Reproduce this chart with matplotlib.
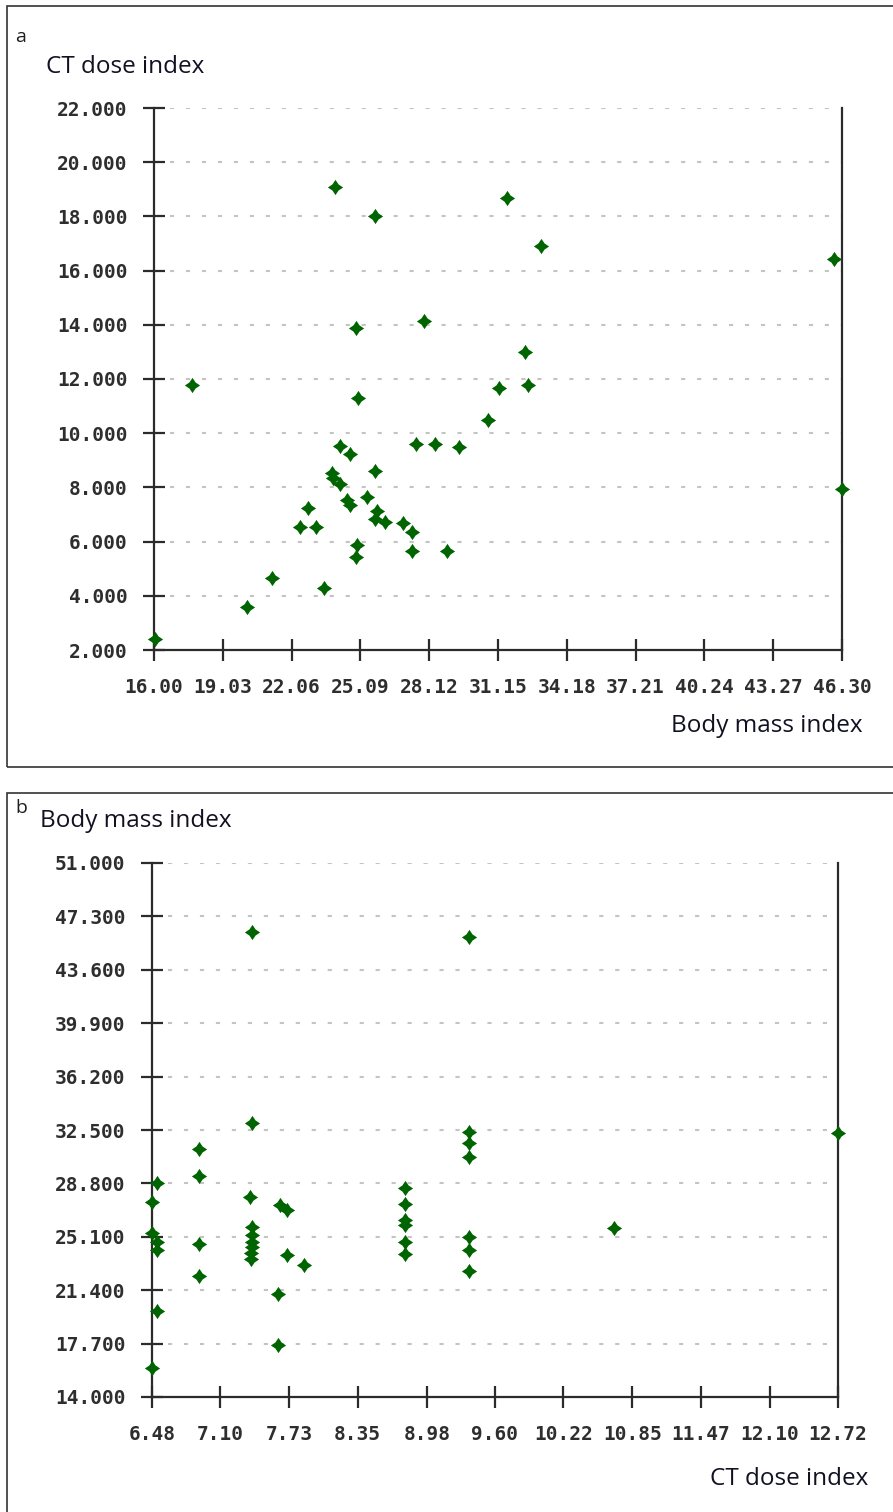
import matplotlib
matplotlib.use("Agg")
import matplotlib.pyplot as plt
from matplotlib.path import Path
from matplotlib.patches import Rectangle

plt.rcParams['lines.scale_dashes'] = False

# ---------------- data ----------------
# Panel a: x = Body mass index, y = CT dose index
a_bmi = [23.97, 25.74, 24.9, 27.9, 31.53, 33.05, 45.96, 32.36, 17.67, 25.0,
         24.19, 24.63, 27.54, 28.36, 23.83, 23.9, 24.19, 25.72, 24.51, 24.63,
         25.37, 22.8, 22.43, 23.14, 25.8, 25.74, 26.18, 26.98, 27.38, 27.35,
         28.92, 24.93, 24.9, 23.5, 21.18, 20.1, 16.04, 31.2, 32.45, 30.73,
         29.45, 46.3]
a_ctdi = [19.08, 18.0, 13.9, 14.15, 18.69, 16.91, 16.43, 13.0, 11.78, 11.29,
          9.53, 9.22, 9.6, 9.6, 8.54, 8.33, 8.13, 8.62, 7.54, 7.35,
          7.66, 7.25, 6.55, 6.55, 7.14, 6.83, 6.74, 6.68, 6.37, 5.65,
          5.65, 5.87, 5.44, 4.28, 4.67, 3.58, 2.4, 11.68, 11.78, 10.49,
          9.5, 7.93]
a_xticklabels = ["16.00", "19.03", "22.06", "25.09", "28.12", "31.15",
                 "34.18", "37.21", "40.24", "43.27", "46.30"]
a_yticklabels = ["2.000", "4.000", "6.000", "8.000", "10.000", "12.000",
                 "14.000", "16.000", "18.000", "20.000", "22.000"]

# Panel b: x = CT dose index, y = Body mass index
b_ctdi = [7.39, 9.36, 7.39, 6.91, 6.91, 6.53, 6.48, 7.37, 7.64, 7.71,
          8.78, 8.78, 8.78, 8.78, 8.78, 8.78, 6.48, 6.53, 6.53, 6.91,
          6.91, 7.39, 7.39, 7.39, 7.39, 7.38, 7.38, 7.71, 7.86, 7.63,
          6.53, 7.63, 6.48, 9.36, 9.36, 9.36, 12.72, 10.68, 9.36, 9.36,
          9.36]
b_bmi = [46.19, 45.84, 33.01, 31.17, 29.31, 28.81, 27.49, 27.88, 27.3, 26.96,
         28.46, 27.35, 26.26, 25.9, 24.76, 23.88, 25.34, 24.76, 24.18, 24.6,
         22.38, 25.8, 25.22, 24.76, 24.41, 23.95, 23.54, 23.84, 23.14, 21.11,
         19.97, 17.6, 15.98, 32.39, 31.58, 30.61, 32.28, 25.69, 25.06, 24.18,
         22.75]
b_xticklabels = ["6.48", "7.10", "7.73", "8.35", "8.98", "9.60",
                 "10.22", "10.85", "11.47", "12.10", "12.72"]
b_yticklabels = ["14.000", "17.700", "21.400", "25.100", "28.800", "32.500",
                 "36.200", "39.900", "43.600", "47.300", "51.000"]

# ---------------- style ----------------
W, H = 893, 1512
fig = plt.figure(figsize=(W / 100, H / 100), dpi=100)

GREEN = "#006400"
AXC = "#2b2b2b"
TICKC = "#2e2e2e"
GRIDC = "#c4c4c4"
LABEL_FONT = ["Open Sans", "DejaVu Sans"]
TICK_FONT = "DejaVu Sans Mono"

s = 0.4
star = Path([(0, 1), (s, s), (1, 0), (s, -s), (0, -1), (-s, -s), (-1, 0), (-s, s), (0, 1)],
            [Path.MOVETO] + [Path.LINETO] * 7 + [Path.CLOSEPOLY])


def px_axes(l, t, r, b):
    return fig.add_axes([l / W, 1 - b / H, (r - l) / W, (b - t) / H])


def style_axes(ax, xvals, yvals, xlabels, ylabels):
    xt = [float(v) for v in xlabels]
    yt = [float(v) for v in ylabels]
    ax.set_xlim(xt[0], xt[-1])
    ax.set_ylim(yt[0], yt[-1])
    ax.set_xticks(xt)
    ax.set_xticklabels(xlabels)
    ax.set_yticks(yt)
    ax.set_yticklabels(ylabels)
    ax.spines["top"].set_visible(False)
    for sp in ["left", "bottom", "right"]:
        ax.spines[sp].set_color(AXC)
        ax.spines[sp].set_linewidth(1.6)
    ax.tick_params(axis="both", direction="inout", length=16, width=1.6,
                   color=AXC, labelcolor=TICKC)
    ax.tick_params(axis="x", pad=12)
    ax.tick_params(axis="y", pad=11)
    for lab in ax.get_xticklabels() + ax.get_yticklabels():
        lab.set_fontfamily(TICK_FONT)
        lab.set_fontweight("bold")
        lab.set_fontsize(14)
    for y in yt[1:]:
        ax.axhline(y, color=GRIDC, lw=1.5, linestyle=(0, (3, 8.5)), zorder=0)
    ax.plot(xvals, yvals, linestyle="none", marker=star, markersize=11,
            color=GREEN, markeredgewidth=0, clip_on=False, zorder=3)


# panel frames
fig.patches.append(Rectangle((7 / W, 1 - 767 / H), 900 / W, 761 / H, transform=fig.transFigure,
                             fill=False, edgecolor="#333333", lw=1.2))
fig.patches.append(Rectangle((7 / W, 1 - 1530 / H), 900 / W, 737 / H, transform=fig.transFigure,
                             fill=False, edgecolor="#333333", lw=1.2))

# Panel a
ax1 = px_axes(154, 108, 842, 650)
style_axes(ax1, a_bmi, a_ctdi, a_xticklabels, a_yticklabels)
fig.text(15 / W, 1 - 37 / H, "a", fontsize=14, family=LABEL_FONT, va="center", ha="left", color="#1e1e1e")
fig.text(46 / W, 1 - 67 / H, "CT dose index", fontsize=17.5, family=LABEL_FONT, va="center", ha="left", color="#111122")
fig.text(863 / W, 1 - 726 / H, "Body mass index", fontsize=17.5, family=LABEL_FONT, va="center", ha="right", color="#111122")

# Panel b
ax2 = px_axes(152, 863, 838, 1397)
style_axes(ax2, b_ctdi, b_bmi, b_xticklabels, b_yticklabels)
fig.text(15 / W, 1 - 808 / H, "b", fontsize=14, family=LABEL_FONT, va="center", ha="left", color="#1e1e1e")
fig.text(40 / W, 1 - 821 / H, "Body mass index", fontsize=17.5, family=LABEL_FONT, va="center", ha="left", color="#111122")
fig.text(868 / W, 1 - 1479 / H, "CT dose index", fontsize=17.5, family=LABEL_FONT, va="center", ha="right", color="#111122")

fig.savefig("out.png", dpi=100, facecolor="white")
